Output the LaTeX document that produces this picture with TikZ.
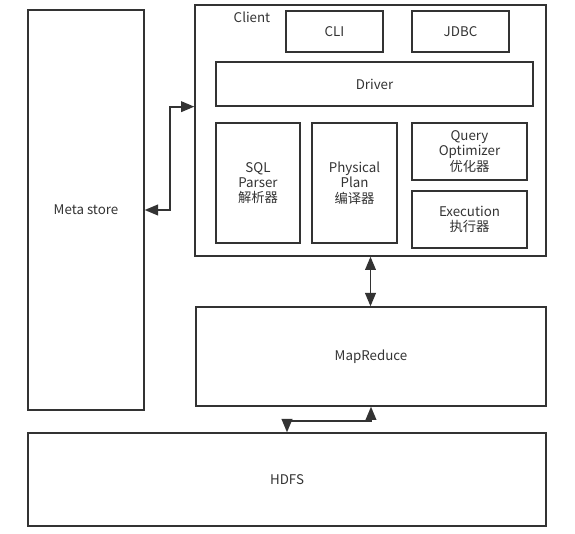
\documentclass[tikz,border=0pt]{standalone}
\usepackage{fontspec}
\setmainfont{Noto Sans CJK SC}
\usetikzlibrary{arrows.meta,positioning}
\definecolor{edge}{HTML}{333333}

\tikzset{
  box/.style={draw=edge, line width=1pt, text=edge, align=center, inner sep=0pt, font=\fontsize{10}{11.5}\selectfont},
  link/.style={draw=edge, line width=1.3pt, {Triangle[length=10pt,width=8pt]}-{Triangle[length=10pt,width=8pt]}}
}

\begin{document}
\begin{tikzpicture}[x=0.75pt,y=0.75pt,yscale=-1,xscale=1]
    \useasboundingbox (0,0) rectangle (575,534);

    % Meta store
    \node[box, minimum width=87pt, minimum height=300pt] (meta) at (86,210) {Meta store};

    % Client and its parts
    \node[box, minimum width=263.25pt, minimum height=188.25pt] (client) at (370.5,130.5) {};
    \node[text=edge, inner sep=0pt, font=\fontsize{10}{11.5}\selectfont] (clientlbl) at (252,17) {Client};
    \node[box, minimum width=72.75pt, minimum height=30.75pt] (cli) at (334.5,31.5) {CLI};
    \node[box, minimum width=72.75pt, minimum height=30.75pt] (jdbc) at (460.5,31.5) {JDBC};
    \node[box, minimum width=237.75pt, minimum height=33pt] (driver) at (374.5,84) {Driver};
    \node[box, minimum width=63pt, minimum height=90pt] (parser) at (258,183) {SQL\\Parser\\解析器};
    \node[box, minimum width=63.75pt, minimum height=90pt] (plan) at (354.5,183) {Physical\\Plan\\编译器};
    \node[box, minimum width=86.25pt, minimum height=42.75pt] (optimizer) at (469.5,151.5) {Query\\Optimizer\\优化器};
    \node[box, minimum width=86.25pt, minimum height=42.75pt] (exec) at (469.5,219.5) {Execution\\执行器};

    % MapReduce and HDFS
    \node[box, minimum width=262.5pt, minimum height=74.25pt] (mr) at (371,356.5) {MapReduce};
    \node[box, minimum width=388.5pt, minimum height=69.75pt] (hdfs) at (287,479.5) {HDFS};

    % Connectors
    \coordinate (bend) at (170,0);
    \coordinate (low) at (0,421);
    \draw[link] (client.west |- driver.south) -| (bend |- meta.east) -- (meta.east);
    \draw[link] (client.south) -- (client.south |- mr.north);
    \draw[link] (hdfs.north) |- (low -| mr.south) -- (mr.south);

\end{tikzpicture}
\end{document}
